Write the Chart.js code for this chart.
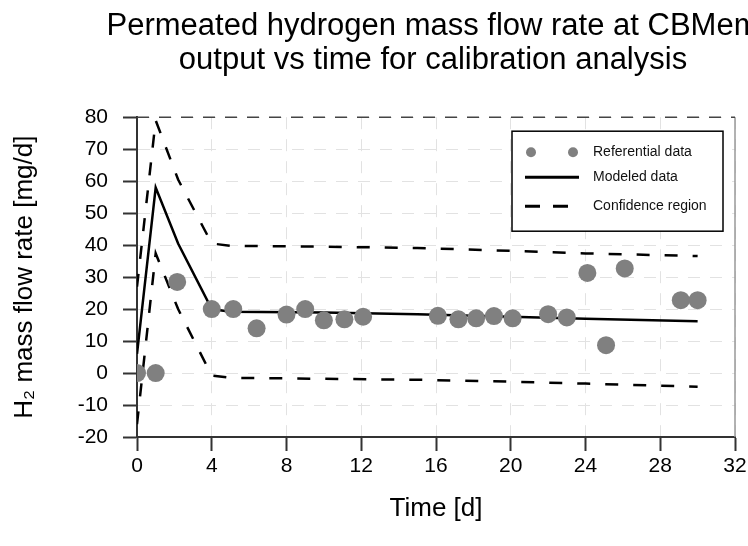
<!DOCTYPE html>
<html>
<head>
<meta charset="utf-8">
<script src="https://cdn.jsdelivr.net/npm/chart.js@4/dist/chart.umd.min.js"></script>
<style>
  html, body { margin: 0; padding: 0; background: #fff; overflow: hidden; }
  #wrap { width: 866px; height: 546px; }
</style>
</head>
<body>
<div id="wrap"><canvas id="permChart" width="866" height="546"></canvas></div>
<script>
// referential (measured) data
var refDays = [0, 1, 2.15, 4, 5.15, 6.4, 8, 9, 10, 11.1, 12.1, 16.1, 17.2, 18.15, 19.1, 20.1, 22, 23, 24.1, 25.1, 26.1, 29.1, 30];
var refRate = [0, 0, 28.5, 20, 20, 14, 18.3, 20, 16.5, 16.8, 17.6, 17.9, 16.8, 17.1, 17.8, 17.1, 18.4, 17.4, 31.3, 8.7, 32.7, 22.8, 22.8];

// modeled data and confidence region
var modelDays = [0, 1, 2.2, 4, 5, 10, 15, 20, 24, 30];
var modelRate = [6, 58, 40.5, 20, 19.2, 18.9, 18.4, 17.6, 17.0, 16.2];
var upperRate = [27, 79, 60.5, 40.5, 39.8, 39.5, 39.1, 38.2, 37.4, 36.6];
var lowerRate = [-16, 37.4, 20, -0.8, -1.5, -1.8, -2.1, -2.7, -3.3, -4.3];

var xTicks = [0, 4, 8, 12, 16, 20, 24, 28, 32];
var yTicks = [-20, -10, 0, 10, 20, 30, 40, 50, 60, 70, 80];

var legendLabels = ['Referential data', 'Modeled data', 'Confidence region'];

var FONT = "'Liberation Sans', Arial, sans-serif";
var dotColor = '#808080';

function toPoints(xs, ys){
    var pts = [];
    for(var i=0; i<xs.length; i++){
        pts.push({x: xs[i], y: ys[i]});
    }
    return pts;
}

// frame: dashed dark top line + solid grey right line
var framePlugin = {
    id: 'frame',
    beforeDatasetsDraw: function(chart){
        var a = chart.chartArea, ctx = chart.ctx;
        ctx.save();
        ctx.strokeStyle = '#999';
        ctx.lineWidth = 1.5;
        ctx.beginPath();
        ctx.moveTo(a.right, a.top);
        ctx.lineTo(a.right, a.bottom);
        ctx.stroke();
        ctx.strokeStyle = '#444';
        ctx.lineWidth = 1.5;
        ctx.setLineDash([12, 10]);
        ctx.beginPath();
        ctx.moveTo(a.left, a.top);
        ctx.lineTo(a.right, a.top);
        ctx.stroke();
        ctx.restore();
    }
};

// boxed legend in the upper right corner of the plot
var boxLegend = {
    id: 'boxLegend',
    afterDraw: function(chart){
        var a = chart.chartArea, ctx = chart.ctx;
        var w = 211, h = 100;
        var x0 = a.right - 12 - w, y0 = a.top + 14;
        ctx.save();
        ctx.fillStyle = '#fff';
        ctx.fillRect(x0, y0, w, h);
        ctx.strokeStyle = '#000';
        ctx.lineWidth = 1.5;
        ctx.strokeRect(x0, y0, w, h);

        var rows = [y0 + 21, y0 + 46, y0 + 75];
        // dots
        ctx.fillStyle = dotColor;
        [x0 + 19, x0 + 61].forEach(function(cx){
            ctx.beginPath();
            ctx.arc(cx, rows[0], 5, 0, Math.PI*2);
            ctx.fill();
        });
        // solid line
        ctx.strokeStyle = '#000';
        ctx.lineWidth = 3;
        ctx.beginPath();
        ctx.moveTo(x0 + 13, rows[1]);
        ctx.lineTo(x0 + 67, rows[1]);
        ctx.stroke();
        // dashed
        ctx.setLineDash([15, 13]);
        ctx.beginPath();
        ctx.moveTo(x0 + 13, rows[2]);
        ctx.lineTo(x0 + 67, rows[2]);
        ctx.stroke();
        ctx.setLineDash([]);

        ctx.fillStyle = '#111';
        ctx.font = '14px ' + FONT;
        ctx.textBaseline = 'middle';
        for(var i=0; i<legendLabels.length; i++){
            ctx.fillText(legendLabels[i], x0 + 81, rows[i]);
        }
        ctx.restore();
    }
};

var ctx = document.getElementById('permChart').getContext('2d');
var permChart = new Chart(ctx, {
    type: 'line',
    data: {
        datasets: [{
            label: legendLabels[0],
            data: toPoints(refDays, refRate),
            showLine: false,
            pointRadius: 9,
            pointHoverRadius: 9,
            pointBackgroundColor: dotColor,
            pointBorderWidth: 0,
            order: 0
        }, {
            label: legendLabels[1],
            data: toPoints(modelDays, modelRate),
            borderColor: '#000',
            borderWidth: 2.5,
            pointRadius: 0,
            tension: 0,
            order: 1
        }, {
            label: legendLabels[2],
            data: toPoints(modelDays, upperRate),
            borderColor: '#000',
            borderWidth: 2.5,
            borderDash: [13, 15],
            pointRadius: 0,
            tension: 0,
            order: 2
        }, {
            label: legendLabels[2],
            data: toPoints(modelDays, lowerRate),
            borderColor: '#000',
            borderWidth: 2.5,
            borderDash: [13, 15],
            pointRadius: 0,
            tension: 0,
            order: 3
        }]
    },
    options: {
        responsive: false,
        animation: false,
        events: [],
        layout: { padding: 0 },
        plugins: {
            legend: { display: false },
            tooltip: { enabled: false },
            title: {
                display: true,
                text: ['Permeated hydrogen mass flow rate at CBMem', 'output vs time for calibration analysis'],
                color: '#000',
                font: { family: FONT, size: 31, weight: 'normal', lineHeight: 1.1 },
                padding: { top: 9, bottom: 40 }
            }
        },
        scales: {
            x: {
                type: 'linear',
                min: 0,
                max: 32,
                afterBuildTicks: function(scale){
                    scale.ticks = xTicks.map(function(v){ return {value: v}; });
                },
                afterFit: function(scale){
                    // keep room on the right, the canvas is wider than the window
                    scale.height = 109;
                    scale.paddingLeft = 0;
                    scale.paddingRight = 131;
                },
                ticks: {
                    color: '#000',
                    font: { family: FONT, size: 21 },
                    padding: 3,
                    maxRotation: 0
                },
                grid: {
                    color: '#e2e2e2',
                    lineWidth: 1,
                    tickColor: '#333',
                    tickLength: 14,
                    tickWidth: 2
                },
                border: { display: true, color: '#333', width: 2, dash: [12, 10] },
                title: {
                    display: true,
                    text: 'Time [d]',
                    color: '#000',
                    font: { family: FONT, size: 26 },
                    padding: { top: 0, bottom: 22 }
                }
            },
            y: {
                type: 'linear',
                min: -20,
                max: 80,
                afterBuildTicks: function(scale){
                    scale.ticks = yTicks.map(function(v){ return {value: v}; });
                },
                afterFit: function(scale){
                    scale.width = 137;
                    scale.paddingTop = 0;
                    scale.paddingBottom = 0;
                },
                ticks: {
                    color: '#000',
                    font: { family: FONT, size: 21 },
                    padding: 15
                },
                grid: {
                    color: '#e2e2e2',
                    lineWidth: 1,
                    tickColor: '#333',
                    tickLength: 14,
                    tickWidth: 2
                },
                border: { display: true, color: '#333', width: 2, dash: [12, 10] },
                title: {
                    display: true,
                    text: 'H\u2082 mass flow rate [mg/d]',
                    color: '#000',
                    font: { family: FONT, size: 26 },
                    padding: { top: 9, bottom: 0 }
                }
            }
        }
    },
    plugins: [framePlugin, boxLegend]
});
</script>
</body>
</html>
